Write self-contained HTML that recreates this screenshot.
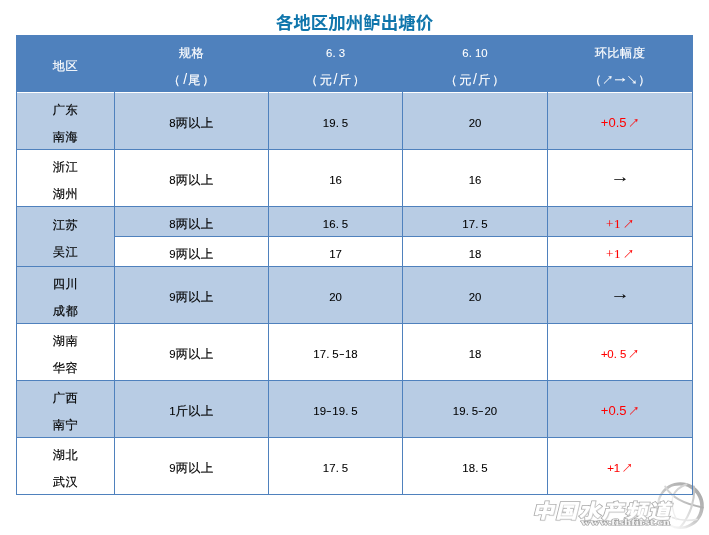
<!DOCTYPE html>
<html lang="zh-CN"><head><meta charset="utf-8"><title>各地区加州鲈出塘价</title>
<style>
html,body{margin:0;padding:0;background:#fff;}
body{width:709px;height:535px;position:relative;overflow:hidden;font-family:"Liberation Sans","Noto Sans CJK SC",sans-serif;}
.b{position:absolute;}
.m{font-family:"Liberation Sans",sans-serif;font-size:11.4px;letter-spacing:0;-webkit-text-stroke:0.08px currentColor;}
.p{margin:0 3px 0 0.2px;}
.d{display:inline-block;margin:0 1.27px;transform:translateY(-0.6px) scaleX(1.5);}
.q{letter-spacing:-0.3px;}
.sl{font-family:"Liberation Sans",sans-serif;font-size:14px;line-height:0;margin:0 1.2px;letter-spacing:0;position:relative;top:0.6px;-webkit-text-stroke:0;}
.a{font-family:"Liberation Sans",sans-serif;font-size:13px;letter-spacing:0;-webkit-text-stroke:0;}
.s{font-family:"Liberation Serif",serif;font-size:13.1px;letter-spacing:0.7px;-webkit-text-stroke:0.05px currentColor;}
.lp{margin-right:1.4px;}
.rp{margin-left:1.4px;}
.ar{font-family:"WenQuanYi Zen Hei","Noto Sans CJK SC",sans-serif;font-size:11.6px;letter-spacing:1.1px;position:relative;left:1.4px;top:0.1px;}
.ar.r2{font-size:13px;letter-spacing:0;left:0;top:-0.3px;}
th .ar{left:0.2px;letter-spacing:0.5px;}
#title{position:absolute;left:0;top:10.8px;width:709px;text-align:center;font-family:"Liberation Sans","Noto Sans CJK SC",sans-serif;font-weight:bold;font-size:17.5px;line-height:24px;color:#1076AC;white-space:nowrap;}
#wm{position:absolute;left:530px;top:496px;font-family:"Liberation Sans","Noto Sans CJK SC",sans-serif;font-weight:900;font-size:19.5px;line-height:30px;letter-spacing:1.03px;color:#fff;-webkit-text-stroke:1.5px #a9a9a9;paint-order:stroke fill;transform:skewX(-14deg) scaleX(1.13);transform-origin:0 100%;white-space:nowrap;text-shadow:1px 1px 1px #d0d0d0;}
#url{position:absolute;left:580.5px;top:517.5px;font-family:"Liberation Serif",serif;font-weight:bold;font-size:8px;line-height:10px;letter-spacing:0;color:#f4f4f4;-webkit-text-stroke:1.15px #a2a2a2;paint-order:stroke fill;white-space:nowrap;transform:scaleX(1.6);transform-origin:0 0;}

table{position:absolute;left:16px;top:35px;width:677px;border-collapse:collapse;table-layout:fixed;margin:0;padding:0;}
td,th{padding:0;margin:0;border:1px solid #4F81BD;text-align:center;vertical-align:middle;white-space:nowrap;font-weight:normal;font-size:12.2px;letter-spacing:0.5px;line-height:27px;color:#000;-webkit-text-stroke:0.16px currentColor;font-family:"Liberation Sans","WenQuanYi Zen Hei","Noto Sans CJK SC",sans-serif;overflow:hidden;}
th{background:#4F81BD;color:#fff;}
thead tr{height:56px;}
tbody tr:first-child{height:58px;}
tbody tr:first-child td{box-shadow:inset 0 1px 0 #fff;}
tr{height:57px;}
tr.sub{height:30px;}
tr.lt td,td.lt{background:#B8CCE4;}
td.r{color:#f00;}
td i,th i{font-style:normal;display:block;position:relative;top:2px;}
th i,i.o3,i.o5,tbody tr:first-child i{top:3px;}
td.r i.o5,tbody tr:first-child td.r i{top:2px;}
i.o3.k{top:2px;}
</style></head><body>
<div id="title">各地区加州鲈出塘价</div>
<svg class="b" style="left:649px;top:475px" width="60" height="60" viewBox="649 475 60 60">
<defs>
<linearGradient id="g1" x1="0.85" y1="0.1" x2="0.15" y2="0.9"><stop offset="0" stop-color="#a9a9a9"/><stop offset="0.5" stop-color="#c4c4c4"/><stop offset="0.8" stop-color="#ececec"/><stop offset="1" stop-color="#fafafa"/></linearGradient>
<linearGradient id="g2" gradientUnits="userSpaceOnUse" x1="664" y1="490" x2="703" y2="507"><stop offset="0" stop-color="#d6d6d6"/><stop offset="1" stop-color="#aeaeae"/></linearGradient>
<linearGradient id="g3" gradientUnits="userSpaceOnUse" x1="693" y1="486" x2="680" y2="528"><stop offset="0" stop-color="#bcbcbc"/><stop offset="1" stop-color="#eeeeee"/></linearGradient>
<filter id="bl" x="-10%" y="-10%" width="120%" height="120%"><feGaussianBlur stdDeviation="0.35"/></filter>
</defs>
<g filter="url(#bl)">
<path fill="url(#g1)" fill-rule="evenodd" d="M680.4 482.2a23.4 23.4 0 1 0 0.01 0zM679.6 485.4a20.6 20.6 0 1 1 -0.01 0z"/>
<g fill="none" stroke-linecap="round">
<path d="M665.2 486.6C670 495 680 503.5 702.8 507.4" stroke="url(#g2)" stroke-width="2"/>
<path d="M686.5 484.2C680 486.5 675.5 490.5 673 495.6" stroke="#d4d4d4" stroke-width="2"/>
<path d="M693.8 486.5C695 497 692 513 680.6 527" stroke="url(#g3)" stroke-width="2.1"/>
<path d="M672.4 517.6C680 520.6 689 521 697 519.4" stroke="#e6e6e6" stroke-width="1.6"/>
<path d="M673 495.6C671.2 503 672.2 511 676.4 519.6" stroke="#efefef" stroke-width="1.4"/>
</g></g></svg>
<table>
<colgroup><col style="width:98px"><col style="width:154px"><col style="width:134px"><col style="width:145px"><col style="width:145px"></colgroup>
<thead><tr><th><i class="o1">地区</i></th><th><i class="o2">规格<br><span class="lp">（</span><span class="sl">/</span>尾<span class="rp">）</span></i></th><th><i class="o2"><span class="m">6<span class="p">.</span>3</span><br><span class="lp">（</span>元<span class="sl">/</span>斤<span class="rp">）</span></i></th><th><i class="o2"><span class="m">6<span class="p">.</span>10</span><br><span class="lp">（</span>元<span class="sl">/</span>斤<span class="rp">）</span></i></th><th><i class="o2">环比幅度<br>（<span class="ar">↗→↘</span>）</i></th></tr></thead>
<tbody>
<tr class="lt"><td><i class="o3">广东<br>南海</i></td><td><i class="o4"><span class="m">8</span>两以上</i></td><td><i class="o4"><span class="m">19<span class="p">.</span>5</span></i></td><td><i class="o4"><span class="m">20</span></i></td><td class=r><i class="o4"><span class="a">+0.5</span><span class="ar">↗</span></i></td></tr>
<tr><td><i class="o3">浙江<br>湖州</i></td><td><i class="o4"><span class="m">8</span>两以上</i></td><td><i class="o4"><span class="m">16</span></i></td><td><i class="o4"><span class="m">16</span></i></td><td><i class="o4"><span class="ar r2">→</span></i></td></tr>
<tr class="sub lt"><td rowspan="2" class="lt"><i class="o3 k">江苏<br>吴江</i></td><td><i class="o5"><span class="m">8</span>两以上</i></td><td><i class="o5"><span class="m">16<span class="p">.</span>5</span></i></td><td><i class="o5"><span class="m">17<span class="p">.</span>5</span></i></td><td class=r><i class="o5"><span class="s">+1</span><span class="ar">↗</span></i></td></tr>
<tr class="sub"><td><i class="o5"><span class="m">9</span>两以上</i></td><td><i class="o5"><span class="m">17</span></i></td><td><i class="o5"><span class="m">18</span></i></td><td class=r><i class="o5"><span class="s">+1</span><span class="ar">↗</span></i></td></tr>
<tr class="lt"><td><i class="o3">四川<br>成都</i></td><td><i class="o4"><span class="m">9</span>两以上</i></td><td><i class="o4"><span class="m">20</span></i></td><td><i class="o4"><span class="m">20</span></i></td><td><i class="o4"><span class="ar r2">→</span></i></td></tr>
<tr><td><i class="o3">湖南<br>华容</i></td><td><i class="o4"><span class="m">9</span>两以上</i></td><td><i class="o4"><span class="m">17<span class="p">.</span>5<span class="d">-</span>18</span></i></td><td><i class="o4"><span class="m">18</span></i></td><td class=r><i class="o4"><span class="m"><span class="q">+</span>0<span class="p">.</span>5</span><span class="ar">↗</span></i></td></tr>
<tr class="lt"><td><i class="o3">广西<br>南宁</i></td><td><i class="o4"><span class="m">1</span>斤以上</i></td><td><i class="o4"><span class="m">19<span class="d">-</span>19<span class="p">.</span>5</span></i></td><td><i class="o4"><span class="m">19<span class="p">.</span>5<span class="d">-</span>20</span></i></td><td class=r><i class="o4"><span class="a">+0.5</span><span class="ar">↗</span></i></td></tr>
<tr><td><i class="o3">湖北<br>武汉</i></td><td><i class="o4"><span class="m">9</span>两以上</i></td><td><i class="o4"><span class="m">17<span class="p">.</span>5</span></i></td><td><i class="o4"><span class="m">18<span class="p">.</span>5</span></i></td><td class=r><i class="o4"><span class="m"><span class="q">+</span>1</span><span class="ar">↗</span></i></td></tr>
</tbody></table>
<div id="wm">中国水产频道</div>
<div id="url">www.fishfirst.cn</div>
</body></html>
